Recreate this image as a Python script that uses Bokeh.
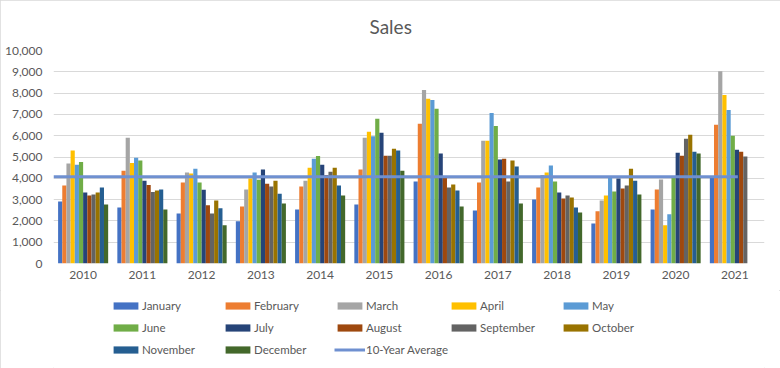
import numpy as np
from bokeh.plotting import figure
from bokeh.layouts import column
from bokeh.models import (ColumnDataSource, FixedTicker, NumeralTickFormatter,
                          Range1d, Legend, LegendItem)
from bokeh.transform import dodge
from bokeh.embed import file_html
from bokeh.resources import INLINE

# ---------------- data ----------------
years = ["2010", "2011", "2012", "2013", "2014", "2015",
         "2016", "2017", "2018", "2019", "2020", "2021"]
months = ["January", "February", "March", "April", "May", "June",
          "July", "August", "September", "October", "November", "December"]

sales_2010 = [2910, 3660, 4690, 5300, 4640, 4770, 3330, 3190, 3240, 3330, 3570, 2770]
sales_2011 = [2630, 4360, 5900, 4720, 4970, 4830, 3880, 3690, 3360, 3430, 3470, 2540]
sales_2012 = [2350, 3800, 4270, 4220, 4450, 3800, 3460, 2730, 2350, 2960, 2590, 1790]
sales_2013 = [1980, 2680, 3470, 3990, 4270, 3930, 4410, 3740, 3610, 3880, 3270, 2820]
sales_2014 = [2540, 3610, 3890, 4500, 4920, 5050, 4640, 4150, 4310, 4500, 3660, 3190]
sales_2015 = [2770, 4410, 5900, 6180, 5980, 6790, 6140, 5060, 5060, 5390, 5300, 4360]
sales_2016 = [3850, 6560, 8150, 7730, 7680, 7260, 5160, 4050, 3570, 3710, 3430, 2680]
sales_2017 = [2490, 3800, 5760, 5760, 7070, 6460, 4880, 4920, 3850, 4830, 4550, 2820]
sales_2018 = [3010, 3570, 4150, 4270, 4600, 3850, 3330, 3050, 3190, 3100, 2630, 2400]
sales_2019 = [1880, 2450, 2960, 3190, 4100, 3380, 3990, 3520, 3660, 4450, 3890, 3240]
sales_2020 = [2540, 3470, 3940, 1790, 2310, 4100, 5200, 5060, 5860, 6040, 5250, 5160]
sales_2021 = [4100, 6510, 9030, 7910, 7210, 6000, 5340, 5250, 5020, None, None, None]

average_label = "10-Year Average"
average_year_count = 10
average_span = [-0.5, 11.05]   # x extent of the average line (category units)

y_ticks = [0, 1000, 2000, 3000, 4000, 5000, 6000, 7000, 8000, 9000, 10000]

month_colors = ["#4472C4", "#ED7D31", "#A5A5A5", "#FFC000", "#5B9BD5", "#70AD47",
                "#264478", "#9E480E", "#636363", "#997300", "#255E91", "#43682B"]
average_color = "#6F90D0"
text_color = "#595959"
grid_color = "#D9D9D9"
FONT = "Lato"

# ---------------- build ----------------
by_year = np.array([sales_2010, sales_2011, sales_2012, sales_2013, sales_2014,
                    sales_2015, sales_2016, sales_2017, sales_2018, sales_2019,
                    sales_2020, sales_2021], dtype=float)
ten_year_average = float(np.nanmean(by_year[:average_year_count]))

p = figure(width=780, height=290, output_backend="svg", toolbar_location=None,
           x_range=Range1d(-0.5, len(years) - 0.5), y_range=Range1d(0, 10000),
           min_border_left=53, min_border_right=16, min_border_top=49,
           min_border_bottom=27)
p.outline_line_color = None
p.background_fill_color = "white"
p.border_fill_color = "white"

group_width = 0.845
bar_w = group_width / len(months)
x_idx = np.arange(len(years))

for m, month in enumerate(months):
    src = ColumnDataSource(dict(x=x_idx, top=by_year[:, m]))
    off = -group_width / 2 + (m + 0.5) * bar_w
    p.vbar(x=dodge("x", off), top="top", bottom=0, width=bar_w, source=src,
           fill_color=month_colors[m], line_color=None)

avg_src = ColumnDataSource(dict(x=average_span, y=[ten_year_average] * len(average_span)))
p.line(x="x", y="y", source=avg_src, line_color=average_color, line_width=3)

# axes
p.xaxis.ticker = FixedTicker(ticks=list(x_idx))
p.xaxis.major_label_overrides = {int(i): y for i, y in enumerate(years)}
p.yaxis.ticker = FixedTicker(ticks=y_ticks)
p.yaxis.formatter = NumeralTickFormatter(format="0,0")
for ax in (p.xaxis[0], p.yaxis[0]):
    ax.axis_line_color = None
    ax.major_tick_line_color = None
    ax.minor_tick_line_color = None
    ax.major_tick_out = 0
    ax.major_tick_in = 0
    ax.major_label_text_color = text_color
    ax.major_label_text_font = FONT
    ax.major_label_text_font_size = "12px"
p.yaxis.major_label_standoff = 11
p.xaxis.major_label_standoff = 7

p.xgrid.grid_line_color = None
p.ygrid.ticker = FixedTicker(ticks=y_ticks)
p.ygrid.grid_line_color = grid_color
p.ygrid.grid_line_width = 1

# title
p.title.text = "Sales"
p.title.text_font = FONT
p.title.text_font_size = "19px"
p.title.text_font_style = "normal"
p.title.text_color = text_color
p.title.align = "left"
p.title.offset = 316
p.title.standoff = 25

# legend panel (second figure; keys styled like the series, drawn off-range)
lg = figure(width=780, height=78, output_backend="svg", toolbar_location=None,
            x_range=Range1d(0, 1), y_range=Range1d(0, 1),
            x_axis_location=None, y_axis_location=None,
            min_border_left=0, min_border_right=0, min_border_top=0,
            min_border_bottom=0)
lg.outline_line_color = None
lg.background_fill_color = "white"
lg.border_fill_color = "white"
lg.grid.visible = False

items = []
for m, month in enumerate(months):
    r = lg.vbar(x=[-10], top=[-10], bottom=[-11], width=bar_w,
                fill_color=month_colors[m], line_color=None)
    items.append(LegendItem(label=month, renderers=[r]))
r = lg.line(x=[-10, -9], y=[-10, -10], line_color=average_color, line_width=3)
items.append(LegendItem(label=average_label, renderers=[r]))

legend = Legend(items=items, location=(57, 8), orientation="horizontal",
                ncols=5, glyph_width=31, glyph_height=9, label_standoff=1,
                label_width=80, label_height=22, spacing=0, padding=0, margin=0,
                label_text_font=FONT, label_text_font_size="11.5px",
                label_text_color=text_color, background_fill_alpha=0,
                border_line_color=None)
lg.add_layout(legend, "center")

layout = column(p, lg, spacing=0)
layout.styles = {"outline": "1px solid #D9D9D9", "outline-offset": "-1px"}

open("out.html", "w").write(file_html(layout, INLINE))
